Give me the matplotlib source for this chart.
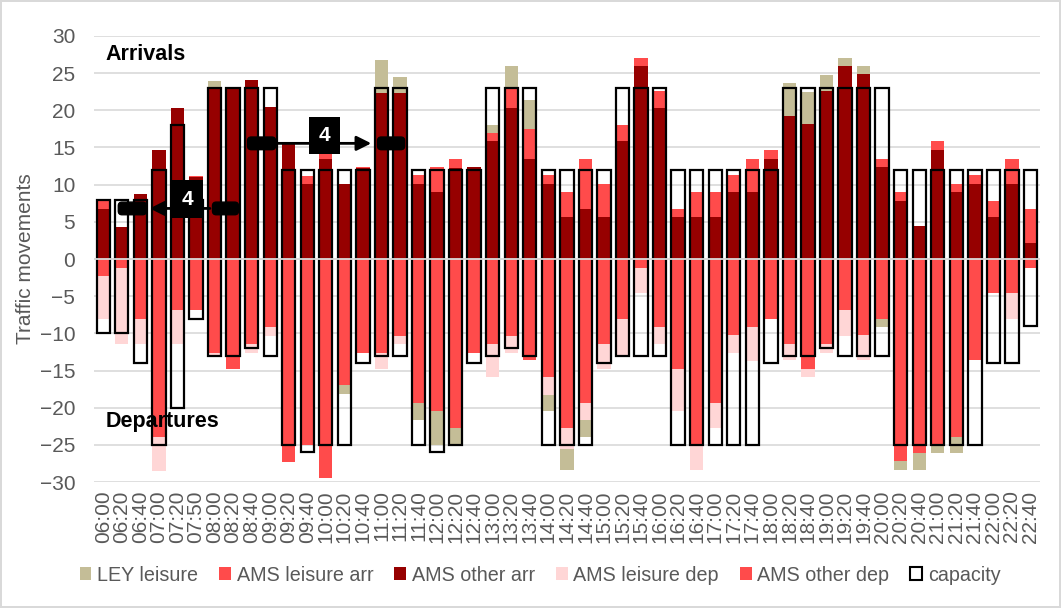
import numpy as np
import matplotlib
matplotlib.use("Agg")
import matplotlib.pyplot as plt
from matplotlib.patches import FancyBboxPatch, Patch, Rectangle

plt.rcParams['font.family'] = ['Liberation Sans', 'DejaVu Sans']

times = ["06:00", "06:20", "06:40", "07:00", "07:20", "07:50", "08:00", "08:20", "08:40",
         "09:00", "09:20", "09:40", "10:00", "10:20", "10:40", "11:00", "11:20", "11:40",
         "12:00", "12:20", "12:40", "13:00", "13:20", "13:40", "14:00", "14:20", "14:40",
         "15:00", "15:20", "15:40", "16:00", "16:20", "16:40", "17:00", "17:20", "17:40",
         "18:00", "18:20", "18:40", "19:00", "19:20", "19:40", "20:00", "20:20", "20:40",
         "21:00", "21:20", "21:40", "22:00", "22:20", "22:40"]

# arrivals (positive)
other_arr = [6.7, 4.25, 8.7, 14.6, 20.3, 11.0, 23.0, 23.0, 24.0,
             20.5, 15.5, 10.1, 13.5, 10.1, 12.3, 22.3, 22.3, 10.1,
             9.0, 12.2, 12.4, 15.8, 20.3, 13.5, 10.1, 5.6, 6.7,
             5.6, 15.8, 25.9, 20.3, 5.6, 5.6, 5.6, 9.0, 9.0,
             13.5, 19.2, 18.1, 22.6, 26.0, 24.9, 12.4, 7.8, 4.5,
             14.6, 9.0, 10.1, 5.6, 10.1, 2.2]
leisure_arr = [1.3, 0, 0, 0, 0, 0.2, 0, 0, 0,
               0, 0, 1.1, 0.6, 0, 0.1, 0, 0, 1.2,
               3.4, 1.3, 0, 1.1, 2.8, 4.0, 1.2, 3.4, 6.8,
               4.5, 2.2, 1.15, 2.3, 1.1, 3.4, 3.4, 2.3, 4.5,
               1.1, 0, 0, 0, 0, 0, 1.1, 1.2, 0,
               1.2, 1.1, 1.2, 2.2, 3.4, 4.5]
ley_arr = [0, 0, 0, 0, 0, 0, 0.9, 0, 0,
           0, 0, 0, 0, 0, 0, 4.5, 2.2, 0,
           0, 0, 0, 1.1, 2.9, 3.9, 0, 0, 0,
           0, 0, 0, 0, 0, 0, 0, 0, 0,
           0, 4.5, 4.4, 2.2, 1.05, 1.1, 0, 0, 0,
           0, 0, 0, 0, 0, 0]

# departures (magnitudes, drawn below zero)
other_dep = [2.3, 1.2, 8.0, 23.9, 6.9, 6.9, 12.6, 14.8, 11.4,
             9.2, 27.3, 25.0, 29.5, 17.0, 12.6, 12.6, 10.3, 19.4,
             20.5, 22.7, 12.6, 11.4, 10.3, 13.6, 15.9, 22.7, 19.4,
             11.4, 8.0, 1.2, 9.2, 14.8, 25.0, 19.4, 10.2, 9.1,
             8.0, 11.4, 14.8, 11.4, 6.9, 10.2, 8.0, 27.2, 26.1,
             25.0, 23.9, 13.6, 4.6, 4.6, 1.2]
leisure_dep = [5.8, 10.2, 3.4, 4.6, 4.5, 0, 0.3, 0, 1.2,
               1.1, 0, 0, 0, 0, 0, 2.2, 1.1, 0,
               0, 0, 0, 4.5, 2.3, 0, 2.4, 2.9, 2.2,
               3.4, 5.0, 3.4, 2.2, 5.7, 3.4, 3.3, 2.4, 4.6,
               0, 2.2, 1.1, 1.2, 3.4, 3.4, 0, 0, 0,
               0, 0, 0, 0, 3.4, 0]
ley_dep = [0, 0, 0, 0, 0, 0, 0, 0, 0,
           0, 0, 0, 0, 1.2, 0, 0, 0, 2.2,
           4.5, 2.3, 0, 0, 0, 0, 2.2, 2.8, 2.3,
           0, 0, 0, 0, 0, 0, 0, 0, 0,
           0, 0, 0, 0, 0, 0, 1.1, 1.2, 2.3,
           1.1, 2.2, 0, 0, 0, 0]

cap_arr = [8, 8, 8, 12, 18, 8, 23, 23, 23,
           23, 12, 12, 12, 12, 12, 23, 23, 12,
           12, 12, 12, 23, 23, 23, 12, 12, 12,
           12, 23, 23, 23, 12, 12, 12, 12, 12,
           12, 23, 23, 23, 23, 23, 23, 12, 12,
           12, 12, 12, 12, 12, 12]
cap_dep = [10, 10, 14, 25, 20, 8, 13, 13, 12,
           13, 25, 26, 25, 25, 14, 13, 13, 25,
           26, 25, 14, 13, 12, 13, 25, 25, 25,
           14, 13, 13, 13, 25, 25, 25, 25, 25,
           14, 13, 13, 12, 13, 13, 13, 25, 25,
           25, 25, 25, 14, 14, 9]

c_ley = '#C4BD97'
c_red = '#FF4B4B'
c_dark = '#960000'
c_pink = '#FFD6D6'
grey = '#595959'

x = np.arange(len(times))
w = 0.72

fig = plt.figure(figsize=(10.61, 6.08), dpi=100)
fig.patch.set_edgecolor('#D9D9D9')
fig.patch.set_linewidth(1.5)
ax = fig.add_axes([0.0886, 0.207, 0.8914, 0.734])

oa = np.array(other_arr)
la = np.array(leisure_arr)
ya = np.array(ley_arr)
od = np.array(other_dep)
ld = np.array(leisure_dep)
yd = np.array(ley_dep)

ax.bar(x, oa, w, color=c_dark, zorder=2)
ax.bar(x, la, w, bottom=oa, color=c_red, zorder=2)
ax.bar(x, ya, w, bottom=oa + la, color=c_ley, zorder=2)
ax.bar(x, -od, w, color=c_red, zorder=2)
ax.bar(x, -ld, w, bottom=-od, color=c_pink, zorder=2)
ax.bar(x, -yd, w, bottom=-od - ld, color=c_ley, zorder=2)

ca = np.array(cap_arr)
cd = np.array(cap_dep)
ax.bar(x, ca + cd, w, bottom=-cd, facecolor='none', edgecolor='black', linewidth=1.6, zorder=3)

ax.axhline(0, color='#D9D9D9', lw=1.3, zorder=5)

ax.set_ylim(-30, 30)
ax.set_xlim(-0.5, 50.5)
ax.set_yticks(np.arange(-30, 31, 5))
ax.yaxis.grid(True, color='#D9D9D9', lw=1.2)
ax.set_axisbelow(True)
for s in ax.spines.values():
    s.set_visible(False)
ax.tick_params(length=0, colors=grey, labelsize=15)
ax.tick_params(axis='y', pad=13.5)
ax.set_xticks(x)
ax.set_xticklabels(times, rotation=90)
ax.tick_params(axis='x', pad=6)
ax.set_ylabel('Traffic movements', color=grey, fontsize=15, labelpad=3)

ax.text(0.1, 27.5, 'Arrivals', fontsize=15.5, fontweight='bold', va='center', ha='left', zorder=6)
ax.text(0.1, -21.8, 'Departures', fontsize=15.5, fontweight='bold', va='center', ha='left', zorder=6)

# annotation shapes
asp = (1 / 7.43) / (1 / 18.52)


def pill(x0, x1, y0, y1):
    p = FancyBboxPatch((x0, y0), x1 - x0, y1 - y0,
                       boxstyle="round,pad=0,rounding_size=0.2",
                       mutation_aspect=asp, fc='black', ec='black', zorder=7)
    ax.add_patch(p)


pill(0.81, 2.32, 5.95, 7.65)
pill(5.89, 7.29, 5.95, 7.65)
ax.annotate('', xy=(2.35, 6.8), xytext=(5.9, 6.8),
            arrowprops=dict(arrowstyle='-|>', color='black', lw=2, mutation_scale=22), zorder=7)
ax.add_patch(Rectangle((3.73, 5.5), 1.67, 5.1, fc='black', zorder=8))
ax.text(4.56, 8.0, '4', color='white', fontsize=15, fontweight='bold', ha='center', va='center', zorder=9)

pill(7.78, 9.29, 14.7, 16.4)
pill(14.79, 16.25, 14.7, 16.4)
ax.annotate('', xy=(14.6, 15.55), xytext=(9.2, 15.55),
            arrowprops=dict(arrowstyle='-|>', color='black', lw=2, mutation_scale=22), zorder=7)
ax.add_patch(Rectangle((11.07, 14.1), 1.67, 5.0, fc='black', zorder=8))
ax.text(11.9, 16.6, '4', color='white', fontsize=15, fontweight='bold', ha='center', va='center', zorder=9)

handles = [Patch(fc=c_ley, ec='none'), Patch(fc=c_red, ec='none'), Patch(fc=c_dark, ec='none'),
           Patch(fc=c_pink, ec='none'), Patch(fc=c_red, ec='none'), Patch(fc='white', ec='black', lw=1.5)]
labels = ['LEY leisure', 'AMS leisure arr', 'AMS other arr', 'AMS leisure dep', 'AMS other dep', 'capacity']
leg = fig.legend(handles, labels, loc='center', bbox_to_anchor=(0.509, 0.054), ncol=6, frameon=False,
                 fontsize=14.2, handlelength=0.6, handleheight=0.6, handletextpad=0.3, columnspacing=1.05)
for t in leg.get_texts():
    t.set_color(grey)

fig.savefig('out.png', dpi=100)
